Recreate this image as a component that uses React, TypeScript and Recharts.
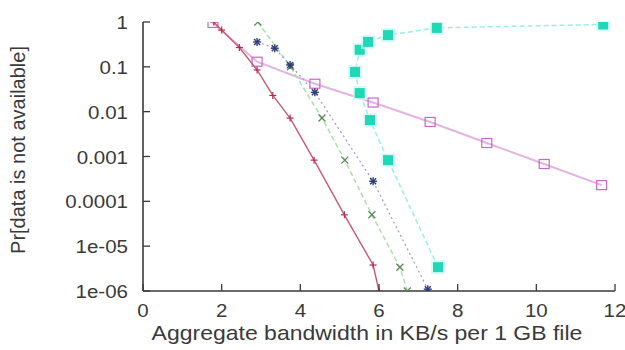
import React from 'react';
import { ScatterChart, Scatter, XAxis, YAxis } from 'recharts';

// x tick values and y tick values/labels
const xTicks = [0, 2, 4, 6, 8, 10, 12];
const yTicks = [1, 0.1, 0.01, 0.001, 0.0001, 0.00001, 0.000001];
const yTickLabels = ['1', '0.1', '0.01', '0.001', '0.0001', '1e-05', '1e-06'];

// series (x = aggregate bandwidth, y = probability)
const redSeries = [
  { x: 1.8, y: 1 }, { x: 2.0, y: 0.66 }, { x: 2.45, y: 0.27 }, { x: 2.9, y: 0.085 },
  { x: 3.3, y: 0.023 }, { x: 3.74, y: 0.0072 }, { x: 4.35, y: 0.00083 },
  { x: 5.12, y: 0.00005 }, { x: 5.85, y: 0.0000038 }, { x: 6.0, y: 0.000001 },
];
const greenSeries = [
  { x: 2.92, y: 1 }, { x: 3.75, y: 0.1 }, { x: 4.55, y: 0.0072 }, { x: 5.13, y: 0.00083 },
  { x: 5.82, y: 0.00005 }, { x: 6.53, y: 0.0000034 }, { x: 6.72, y: 0.000001 },
];
const blueSeries = [
  { x: 2.9, y: 0.36 }, { x: 3.35, y: 0.26 }, { x: 3.74, y: 0.11 }, { x: 4.37, y: 0.027 },
  { x: 5.85, y: 0.00028 }, { x: 7.24, y: 0.0000011 },
];
const magentaSeries = [
  { x: 1.78, y: 0.95 }, { x: 2.9, y: 0.13 }, { x: 4.37, y: 0.042 }, { x: 5.85, y: 0.016 },
  { x: 7.3, y: 0.0059 }, { x: 8.74, y: 0.002 }, { x: 10.2, y: 0.00068 }, { x: 11.66, y: 0.00023 },
];
const cyanSeries = [
  { x: 7.5, y: 0.0000034 }, { x: 6.23, y: 0.00083 }, { x: 5.77, y: 0.0065 }, { x: 5.51, y: 0.026 },
  { x: 5.39, y: 0.077 }, { x: 5.51, y: 0.24 }, { x: 5.72, y: 0.36 }, { x: 6.23, y: 0.51 },
  { x: 7.47, y: 0.74 }, { x: 11.7, y: 0.88 },
];

const FONT = '"Liberation Sans", Arial, sans-serif';
const AXIS = '#3a3a3a';
const TEXT = '#3a3a3a';
const TICK_LEN = 7;

const BottomTick = (p: any) => (
  <g>
    <line x1={p.x} x2={p.x} y1={p.y} y2={p.y - TICK_LEN} stroke={AXIS} strokeWidth={1.3} />
    <g transform={`translate(${p.x},${p.y + 26}) scale(1.08,1)`}>
      <text x={0} y={0} textAnchor="middle" fontFamily={FONT} fontSize={19} fill={TEXT}>
        {p.payload.value}
      </text>
    </g>
  </g>
);
const TopTick = (p: any) => (
  <line x1={p.x} x2={p.x} y1={p.y} y2={p.y + TICK_LEN} stroke={AXIS} strokeWidth={1.3} />
);
const LeftTick = (p: any) => {
  const i = yTicks.indexOf(p.payload.value);
  return (
    <g>
      <line x1={p.x} x2={p.x + TICK_LEN} y1={p.y} y2={p.y} stroke={AXIS} strokeWidth={1.3} />
      <g transform={`translate(${p.x - 15},${p.y + 7}) scale(1.08,1)`}>
        <text x={0} y={0} textAnchor="end" fontFamily={FONT} fontSize={19} fill={TEXT}>
          {i >= 0 ? yTickLabels[i] : ''}
        </text>
      </g>
    </g>
  );
};
const RightTick = (p: any) => (
  <line x1={p.x} x2={p.x - TICK_LEN} y1={p.y} y2={p.y} stroke={AXIS} strokeWidth={1.3} />
);

const PlusShape = (p: any) => (
  <g stroke="#b03050" strokeWidth={1.2}>
    <line x1={p.cx - 3.5} x2={p.cx + 3.5} y1={p.cy} y2={p.cy} />
    <line x1={p.cx} x2={p.cx} y1={p.cy - 3.5} y2={p.cy + 3.5} />
  </g>
);
const CrossShape = (p: any) => (
  <g stroke="#5a8a5a" strokeWidth={1.3}>
    <line x1={p.cx - 3.5} x2={p.cx + 3.5} y1={p.cy - 3.5} y2={p.cy + 3.5} />
    <line x1={p.cx - 3.5} x2={p.cx + 3.5} y1={p.cy + 3.5} y2={p.cy - 3.5} />
  </g>
);
const StarShape = (p: any) => (
  <g stroke="#2c3c78" strokeWidth={1.4}>
    <line x1={p.cx - 4} x2={p.cx + 4} y1={p.cy} y2={p.cy} />
    <line x1={p.cx} x2={p.cx} y1={p.cy - 4} y2={p.cy + 4} />
    <line x1={p.cx - 3} x2={p.cx + 3} y1={p.cy - 3} y2={p.cy + 3} />
    <line x1={p.cx - 3} x2={p.cx + 3} y1={p.cy + 3} y2={p.cy - 3} />
  </g>
);
const OpenSquare = (p: any) => (
  <rect x={p.cx - 5} y={p.cy - 4.5} width={10} height={9} fill="none" stroke="#cc66cc" strokeWidth={1.2} />
);
const FilledSquare = (p: any) => (
  <g>
    <rect x={p.cx - 7} y={p.cy - 7} width={14} height={14} fill="#c8fbf3" opacity={0.7} />
    <rect x={p.cx - 5} y={p.cy - 5} width={10} height={10} fill="#1fd8b6" />
  </g>
);

export default function App() {
  return (
    <div style={{ position: 'absolute', left: 0, top: 0, width: 625, height: 350, background: '#fff' }}>
      <ScatterChart width={625} height={350} margin={{ top: 22, right: 10, bottom: 0, left: 0 }}>
        <XAxis
          xAxisId="b" type="number" dataKey="x" domain={[0, 12]} ticks={xTicks} orientation="bottom"
          height={59} tickSize={0} tickMargin={0} tickLine={false} tick={<BottomTick />}
          axisLine={{ stroke: AXIS, strokeWidth: 1.6 }} allowDataOverflow interval={0}
        />
        <XAxis
          xAxisId="t" type="number" dataKey="x" domain={[0, 12]} ticks={xTicks} orientation="top"
          height={0} tickSize={0} tickMargin={0} tickLine={false} tick={<TopTick />}
          axisLine={{ stroke: AXIS, strokeWidth: 1.6 }} allowDataOverflow interval={0}
        />
        <YAxis
          yAxisId="l" type="number" dataKey="y" scale="log" domain={[0.000001, 1]} ticks={yTicks}
          orientation="left" width={143} tickSize={0} tickMargin={0} tickLine={false} tick={<LeftTick />}
          axisLine={{ stroke: AXIS, strokeWidth: 1.6 }} allowDataOverflow interval={0}
        />
        <YAxis
          yAxisId="r" type="number" dataKey="y" scale="log" domain={[0.000001, 1]} ticks={yTicks}
          orientation="right" width={0} tickSize={0} tickMargin={0} tickLine={false} tick={<RightTick />}
          axisLine={{ stroke: AXIS, strokeWidth: 1.6 }} allowDataOverflow interval={0}
        />
        <Scatter data={magentaSeries} xAxisId="b" yAxisId="l" line={{ stroke: '#e2b4e2', strokeWidth: 2 }}
          lineType="joint" shape={<OpenSquare />} isAnimationActive={false} />
        <Scatter data={cyanSeries} xAxisId="b" yAxisId="l" line={{ stroke: '#9cefe2', strokeWidth: 1.5, strokeDasharray: '5 3' }}
          lineType="joint" shape={<FilledSquare />} isAnimationActive={false} />
        <Scatter data={greenSeries} xAxisId="b" yAxisId="l" line={{ stroke: '#a8e2a8', strokeWidth: 1.5, strokeDasharray: '5 3' }}
          lineType="joint" shape={<CrossShape />} isAnimationActive={false} />
        <Scatter data={blueSeries} xAxisId="b" yAxisId="l" line={{ stroke: '#9a9ad0', strokeWidth: 1.2, strokeDasharray: '2 3' }}
          lineType="joint" shape={<StarShape />} isAnimationActive={false} />
        <Scatter data={redSeries} xAxisId="b" yAxisId="l" line={{ stroke: '#c85a70', strokeWidth: 1.4 }}
          lineType="joint" shape={<PlusShape />} isAnimationActive={false} />
      </ScatterChart>
      <svg width={625} height={350} style={{ position: 'absolute', left: 0, top: 0, pointerEvents: 'none' }}>
        <g transform="translate(367,340) scale(1.15,1)">
          <text x={0} y={0} textAnchor="middle" fontFamily={FONT} fontSize={20} fill={TEXT}>
            Aggregate bandwidth in KB/s per 1 GB file
          </text>
        </g>
        <text x={0} y={0} transform="translate(25,150) rotate(-90)" textAnchor="middle"
          fontFamily={FONT} fontSize={20} fill={TEXT}>
          Pr[data is not available]
        </text>
      </svg>
    </div>
  );
}
